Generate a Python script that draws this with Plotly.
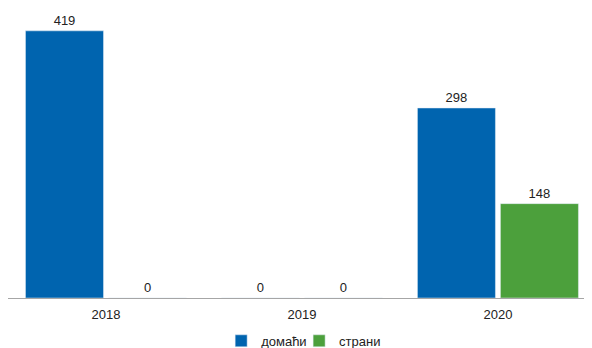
import plotly.graph_objects as go

years = ["2018", "2019", "2020"]
domaci = [419, 0, 298]
strani = [0, 0, 148]

fig = go.Figure()
fig.add_trace(go.Bar(name="домаћи", x=years, y=domaci, marker_color="#0064AF",
                     text=domaci, textposition="outside", cliponaxis=False,
                     textfont=dict(size=13, color="#222"), legend="legend"))
fig.add_trace(go.Bar(name="страни", x=years, y=strani, marker_color="#4CA03C",
                     text=strani, textposition="outside", cliponaxis=False,
                     textfont=dict(size=13, color="#222"), legend="legend2"))

leg_common = dict(orientation="h", xanchor="left", xref="container",
                  y=0.021, yanchor="middle", yref="container",
                  font=dict(size=13), itemwidth=30, bgcolor="rgba(0,0,0,0)")

# page body has an 8px margin, so the figure is sized to the visible area
fig.update_layout(
    width=584, height=340,
    margin=dict(l=0, r=0, t=12, b=50, autoexpand=False),
    barmode="group", bargap=0.153, bargroupgap=0.06,
    plot_bgcolor="white", paper_bgcolor="white",
    font=dict(family="Liberation Sans, Arial, sans-serif", size=13, color="#222"),
    showlegend=True,
    legend=dict(x=0.365, **leg_common),
    legend2=dict(x=0.4985, **leg_common),
    xaxis=dict(showline=True, linecolor="#a6a6a6", linewidth=1, ticks="",
               showgrid=False, range=[-0.5, 2.48], ticklabelstandoff=4),
    yaxis=dict(visible=False, range=[0, 436]),
)
fig.write_html("out.html")
